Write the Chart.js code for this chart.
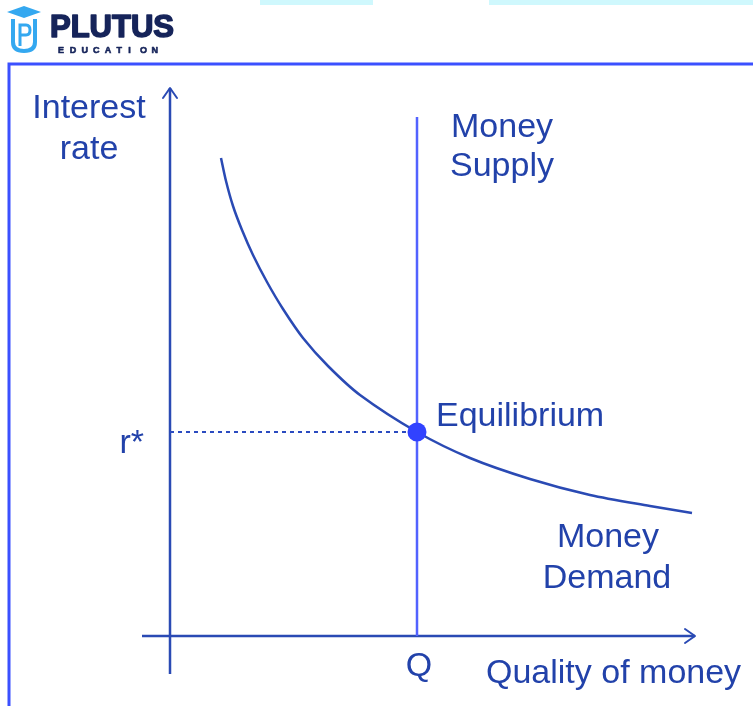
<!DOCTYPE html>
<html>
<head>
<meta charset="utf-8">
<script src="https://cdn.jsdelivr.net/npm/chart.js@4.4.0/dist/chart.umd.min.js"></script>
<style>
  html, body { margin: 0; padding: 0; background: #fff; }
  #chart { display: block; }
</style>
</head>
<body>
<canvas id="chart" width="753" height="706"></canvas>
<script>
// money demand curve (quantity, interest rate)
const demandQ = [51, 56, 63, 72, 83, 97, 113, 133, 158, 190, 247, 300, 360, 420, 480, 522];
const demandR = [478, 455, 430, 406, 381, 354, 327, 298, 270, 241, 204, 178, 157, 141, 130, 123];

// vertical money supply at Q, equilibrium rate r*
const supplyQ = 247;
const supplyTop = 519;
const rStar = 204;

// axis extents
const xAxisRange = [-28, 525];
const yAxisRange = [-38, 548];

const textBlue = '#2242aa';
const lineBlue = '#2a4ab4';
const font = '34px "Liberation Sans", Arial, sans-serif';

const demandPoints = demandQ.map((q, i) => ({ x: q, y: demandR[i] }));

const decorPlugin = {
    id: 'decor',
    beforeDraw(chart) {
        const ctx = chart.ctx;
        ctx.save();
        ctx.fillStyle = '#fff';
        ctx.fillRect(0, 0, chart.width, chart.height);

        // pale strips along the top edge
        ctx.fillStyle = '#cff8fd';
        ctx.fillRect(260, 0, 113, 5);
        ctx.fillRect(489, 0, 264, 5);

        // frame
        ctx.strokeStyle = '#3b50ff';
        ctx.lineWidth = 3;
        ctx.beginPath();
        ctx.moveTo(9, 706);
        ctx.lineTo(9, 64);
        ctx.lineTo(753, 64);
        ctx.stroke();

        // logo icon
        ctx.fillStyle = '#34a8f0';
        ctx.beginPath();
        ctx.moveTo(7, 12); ctx.lineTo(24, 6); ctx.lineTo(41, 12); ctx.lineTo(24, 18);
        ctx.closePath();
        ctx.fill();
        ctx.strokeStyle = '#34a8f0';
        ctx.lineWidth = 4;
        ctx.beginPath();
        ctx.moveTo(13, 19); ctx.lineTo(13, 42);
        ctx.quadraticCurveTo(13, 51, 24, 51);
        ctx.quadraticCurveTo(35, 51, 35, 42);
        ctx.lineTo(35, 19);
        ctx.stroke();
        ctx.lineWidth = 3;
        ctx.beginPath();
        ctx.moveTo(20, 46); ctx.lineTo(20, 25);
        ctx.lineTo(26, 25);
        ctx.quadraticCurveTo(30, 25, 30, 30);
        ctx.quadraticCurveTo(30, 35, 26, 35);
        ctx.lineTo(20, 35);
        ctx.stroke();

        // logo text
        ctx.fillStyle = '#16245a';
        ctx.strokeStyle = '#16245a';
        ctx.lineWidth = 1.6;
        ctx.lineJoin = 'round';
        ctx.font = 'bold 31px "Liberation Sans", Arial, sans-serif';
        ctx.textBaseline = 'alphabetic';
        ctx.textAlign = 'left';
        ctx.fillText('PLUTUS', 50, 37);
        ctx.strokeText('PLUTUS', 50, 37);
        ctx.font = 'bold 9px "Liberation Sans", Arial, sans-serif';
        ctx.lineWidth = 0.6;
        const word = 'EDUCATION';
        for (let i = 0; i < word.length; i++) {
            ctx.fillText(word[i], 58 + i * 11.7, 53);
            ctx.strokeText(word[i], 58 + i * 11.7, 53);
        }
        ctx.restore();
    },
    afterDatasetsDraw(chart) {
        const ctx = chart.ctx;
        const xs = chart.scales.x;
        const ys = chart.scales.y;
        const px = v => xs.getPixelForValue(v);
        const py = v => ys.getPixelForValue(v);
        ctx.save();

        // arrow heads
        ctx.strokeStyle = lineBlue;
        ctx.lineWidth = 2;
        ctx.lineCap = 'round';
        ctx.lineJoin = 'round';
        const tx = px(0), ty = py(yAxisRange[1]);
        ctx.beginPath();
        ctx.moveTo(tx - 7, ty + 10); ctx.lineTo(tx, ty); ctx.lineTo(tx + 7, ty + 10);
        ctx.stroke();
        const rx = px(xAxisRange[1]), ry = py(0);
        ctx.beginPath();
        ctx.moveTo(rx - 10, ry - 7); ctx.lineTo(rx, ry); ctx.lineTo(rx - 10, ry + 7);
        ctx.stroke();

        // labels
        ctx.fillStyle = textBlue;
        ctx.font = font;
        ctx.textBaseline = 'alphabetic';
        ctx.textAlign = 'center';
        ctx.fillText('Interest', 89, 118);
        ctx.fillText('rate', 89, 159);
        ctx.fillText('Money', 608, 547);
        ctx.fillText('Demand', 607, 588);
        ctx.fillText('Q', px(supplyQ) + 2, 676);

        ctx.textAlign = 'left';
        ctx.fillText('Money', px(supplyQ) + 34, 137);
        ctx.fillText('Supply', px(supplyQ) + 33, 176);
        ctx.fillText('Equilibrium', px(supplyQ) + 19, py(rStar) - 6);
        ctx.fillText('Quality of money', 486, 683);

        ctx.textAlign = 'right';
        ctx.fillText('r*', px(0) - 26, py(rStar) + 21);
        ctx.restore();
    }
};

new Chart(document.getElementById('chart'), {
    type: 'scatter',
    data: {
        datasets: [
            {
                label: 'Equilibrium',
                data: [{ x: supplyQ, y: rStar }],
                backgroundColor: '#3142ff',
                borderColor: '#3142ff',
                pointRadius: 9.5,
                pointHoverRadius: 9.5,
                borderWidth: 0
            },
            {
                label: 'Money Demand',
                data: demandPoints,
                showLine: true,
                tension: 0.3,
                borderColor: lineBlue,
                borderWidth: 2.5,
                pointRadius: 0
            },
            {
                label: 'Money Supply',
                data: [{ x: supplyQ, y: 0 }, { x: supplyQ, y: supplyTop }],
                showLine: true,
                borderColor: '#5262ff',
                borderWidth: 2.5,
                pointRadius: 0
            },
            {
                label: 'r*',
                data: [{ x: 0, y: rStar }, { x: supplyQ, y: rStar }],
                showLine: true,
                borderColor: '#2b4bc0',
                borderWidth: 2,
                borderDash: [4, 4],
                pointRadius: 0
            },
            {
                label: 'Interest rate axis',
                data: [{ x: 0, y: yAxisRange[0] }, { x: 0, y: yAxisRange[1] }],
                showLine: true,
                borderColor: lineBlue,
                borderWidth: 2.5,
                pointRadius: 0
            },
            {
                label: 'Quantity axis',
                data: [{ x: xAxisRange[0], y: 0 }, { x: xAxisRange[1], y: 0 }],
                showLine: true,
                borderColor: lineBlue,
                borderWidth: 2.5,
                pointRadius: 0
            }
        ]
    },
    options: {
        responsive: false,
        animation: false,
        layout: { padding: 0, autoPadding: false },
        scales: {
            x: { type: 'linear', min: -170, max: 583, display: false },
            y: { type: 'linear', min: -70, max: 636, display: false }
        },
        plugins: {
            legend: { display: false },
            tooltip: { enabled: false }
        }
    },
    plugins: [decorPlugin]
});
</script>
</body>
</html>
